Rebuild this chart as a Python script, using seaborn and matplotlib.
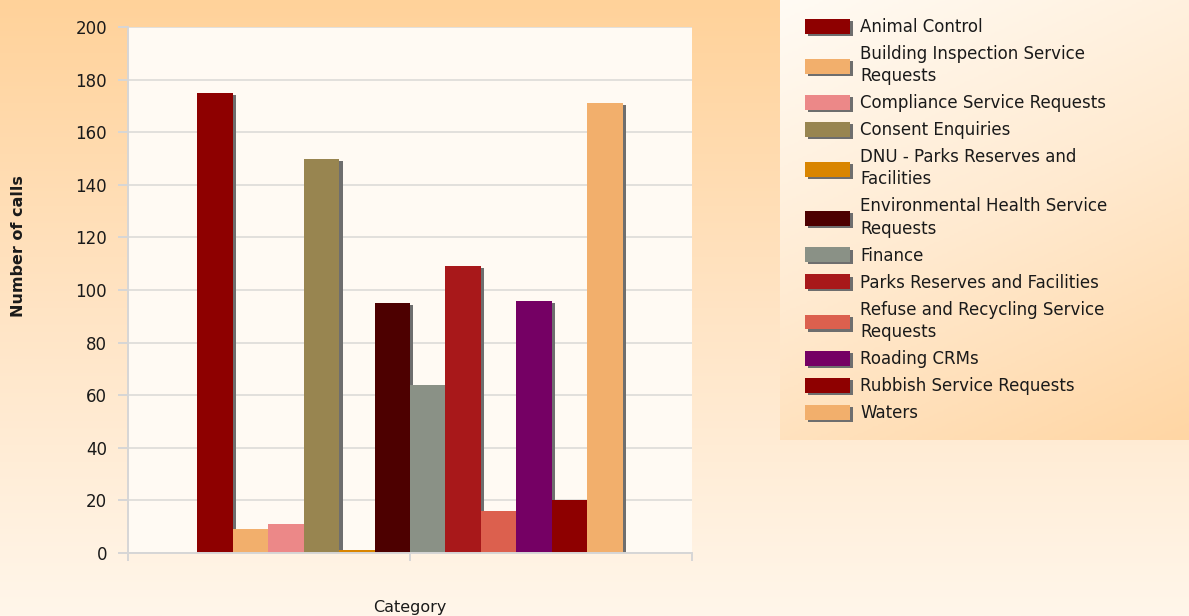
import numpy as np
import pandas as pd
import matplotlib
matplotlib.use('Agg')
import matplotlib.pyplot as plt
import matplotlib.patheffects as pe
from matplotlib.colors import LinearSegmentedColormap
import seaborn as sns

names = ['Animal Control', 'Building Inspection Service Requests',
         'Compliance Service Requests', 'Consent Enquiries',
         'DNU - Parks Reserves and Facilities',
         'Environmental Health Service Requests', 'Finance',
         'Parks Reserves and Facilities',
         'Refuse and Recycling Service Requests', 'Roading CRMs',
         'Rubbish Service Requests', 'Waters']
legend_labels = ['Animal Control', 'Building Inspection Service\nRequests',
                 'Compliance Service Requests', 'Consent Enquiries',
                 'DNU - Parks Reserves and\nFacilities',
                 'Environmental Health Service\nRequests', 'Finance',
                 'Parks Reserves and Facilities',
                 'Refuse and Recycling Service\nRequests', 'Roading CRMs',
                 'Rubbish Service Requests', 'Waters']
calls = [175, 9, 11, 150, 1, 95, 64, 109, 16, 96, 20, 171]
colors = ['#8E0000', '#F2AF6C', '#EC8888', '#988550', '#D98500', '#4D0000',
          '#8A9186', '#A8181A', '#DC604E', '#750064', '#8E0000', '#F2AF6C']

df = pd.DataFrame({'category': [''] * len(names), 'name': names, 'calls': calls})

sns.set_theme(style='white')
plt.rcParams['font.family'] = ['DejaVu Sans']

fig = plt.figure(figsize=(11.89, 6.16), dpi=100)

# page background gradient
bg = fig.add_axes([0, 0, 1, 1], zorder=-10)
bg_cmap = LinearSegmentedColormap.from_list('bg', ['#FFD29A', '#FFE4C4', '#FFF6EA'])
bg.imshow(np.linspace(0, 1, 256).reshape(-1, 1), aspect='auto', cmap=bg_cmap,
          extent=[0, 1, 0, 1])
bg.axis('off')

# legend panel gradient
lp = fig.add_axes([780 / 1189, 176 / 616, 409 / 1189, 440 / 616], zorder=-5)
gx, gy = np.meshgrid(np.linspace(0, 1, 200), np.linspace(0, 1, 200))
lp_cmap = LinearSegmentedColormap.from_list('lp', ['#FFFBF4', '#FFEAD0', '#FFD6A4'])
lp.imshow(0.3 * gx + 0.7 * gy, aspect='auto', cmap=lp_cmap, extent=[0, 1, 0, 1])
lp.axis('off')

ax = fig.add_axes([128 / 1189, 63 / 616, 564 / 1189, 526 / 616])
ax.set_facecolor('#FFFAF3')
sns.barplot(data=df, x='category', y='calls', hue='name', hue_order=names,
            palette=colors, saturation=1, width=0.8, linewidth=0, ax=ax)

shadow = [pe.SimplePatchShadow(offset=(2.5, -1.5), shadow_rgbFace='#6E6E6E', alpha=1),
          pe.Normal()]
for bar in ax.patches:
    bar.set_path_effects(shadow)

ax.set_ylim(0, 200)
ax.set_xlim(-0.53, 0.53)
ax.set_yticks(range(0, 201, 20))
ax.set_xticks([-0.53, 0, 0.53])
ax.set_xticklabels(['', '', ''])
ax.yaxis.grid(True, color='#E2E0DC', linewidth=1.4)
ax.set_axisbelow(True)
for side in ['top', 'right']:
    ax.spines[side].set_visible(False)
for side in ['left', 'bottom']:
    ax.spines[side].set_color('#D6D6D6')
    ax.spines[side].set_linewidth(1.4)
ax.tick_params(axis='y', length=7, width=1.4, color='#D6D6D6', labelsize=12,
               labelcolor='#1A1A1A', pad=8, left=True)
ax.tick_params(axis='x', length=6, width=1.4, color='#D6D6D6', bottom=True)
ax.set_ylabel('Number of calls', fontsize=11.5, fontweight='bold', color='#1A1A1A')
ax.yaxis.set_label_coords(-0.18, 0.584)
ax.set_xlabel('Category', fontsize=11.5, labelpad=24, color='#1A1A1A')

handles, labels = ax.get_legend_handles_labels()
ax.get_legend().remove()
leg = fig.legend(handles, legend_labels, loc='upper left',
                 bbox_to_anchor=(790 / 1189, 1 - 3 / 616), frameon=False,
                 fontsize=12, handlelength=2.7, handleheight=1.0,
                 handletextpad=0.6, labelspacing=0.54)
for t in leg.get_texts():
    t.set_linespacing(1.3)
    t.set_color('#1A1A1A')
for h in leg.legend_handles:
    h.set_path_effects(shadow)

fig.savefig('out.png', dpi=100)
